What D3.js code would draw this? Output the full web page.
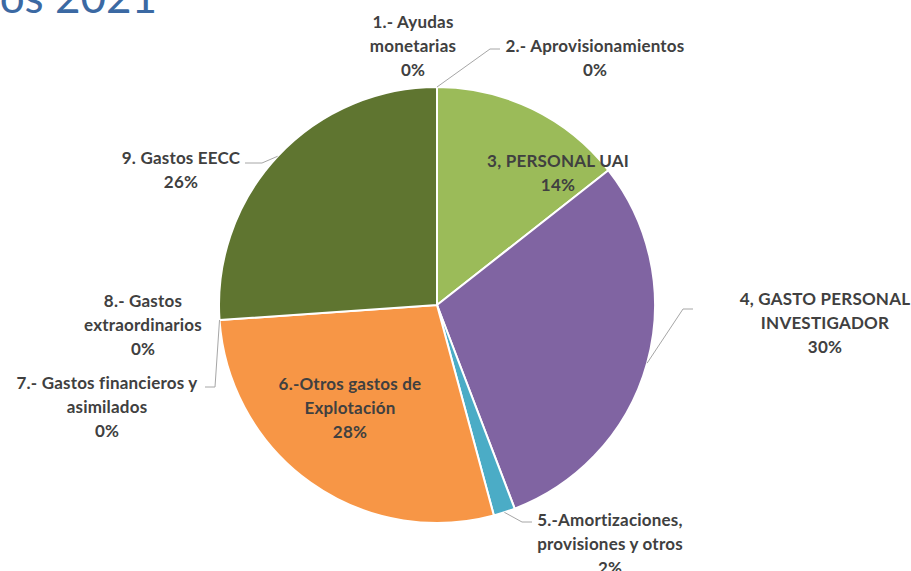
<!DOCTYPE html>
<html>
<head>
<meta charset="utf-8">
<script src="https://cdn.jsdelivr.net/npm/d3@7"></script>
<style>
  html, body { margin: 0; padding: 0; background: #fff; }
  svg { display: block; }
</style>
</head>
<body>
<div id="chart"></div>
<script>
// chart data
const categories = [
  "1.- Ayudas monetarias",
  "2.- Aprovisionamientos",
  "3, PERSONAL UAI",
  "4, GASTO PERSONAL INVESTIGADOR",
  "5.-Amortizaciones, provisiones y otros",
  "6.-Otros gastos de Explotación",
  "7.- Gastos financieros y asimilados",
  "8.- Gastos extraordinarios",
  "9. Gastos EECC"
];
const values = [0, 0, 14.4, 29.8, 1.6, 28.1, 0, 0, 26.1];
const labelLines = [
  ["1.- Ayudas", "monetarias"],
  ["2.- Aprovisionamientos"],
  ["3, PERSONAL UAI"],
  ["4, GASTO PERSONAL", "INVESTIGADOR"],
  ["5.-Amortizaciones,", "provisiones  y otros"],
  ["6.-Otros gastos de", "Explotación"],
  ["7.- Gastos financieros y", "asimilados"],
  ["8.- Gastos", "extraordinarios"],
  ["9. Gastos EECC"]
];
const colors = ["#4F81BD", "#C0504D", "#9BBB59", "#8064A2", "#4BACC6", "#F79646", "#2C4D75", "#772C2A", "#5F7530"];

// layout (label placement, leader elbows)
const width = 911, height = 571;
const cx = 437, cy = 305, radius = 218;
const lineH = 24;
const labelPos = [
  { x: 413, y: 22 },
  { x: 595, y: 46, elbow: [490, 49], end: 500 },
  { x: 558, y: 161 },
  { x: 825, y: 299, elbow: [683, 309], end: 693 },
  { x: 610, y: 520, elbow: [522, 522], end: 532 },
  { x: 350, y: 384 },
  { x: 107, y: 383, elbow: [215, 387], end: 205 },
  { x: 143, y: 301 },
  { x: 181, y: 158, elbow: [262, 163], end: 245 }
];

const total = d3.sum(values);
const pct = d3.format(".0%");

const svg = d3.select("#chart").append("svg")
  .attr("width", width)
  .attr("height", height);

// title (cut at the left edge, as in the slide)
svg.append("text")
  .attr("x", 157)
  .attr("y", 13)
  .attr("text-anchor", "end")
  .style("font-family", "Lato, 'Open Sans', sans-serif")
  .style("font-weight", 400)
  .style("font-size", "44px")
  .style("fill", "#3B69A3")
  .text("Gastos 2021");

const pie = d3.pie().sort(null).value((d) => d);
const arcs = pie(values);
const arc = d3.arc().innerRadius(0).outerRadius(radius);

const g = svg.append("g").attr("transform", `translate(${cx},${cy})`);

g.selectAll("path.slice")
  .data(arcs.filter((d) => d.value > 0))
  .enter().append("path")
  .attr("class", "slice")
  .attr("d", arc)
  .style("fill", (d) => colors[d.index])
  .style("stroke", "#fff")
  .style("stroke-width", 2)
  .style("stroke-linejoin", "round");

// leader lines
const edgePoint = (d) => {
  const a = (d.startAngle + d.endAngle) / 2;
  return [cx + radius * Math.sin(a), cy - radius * Math.cos(a)];
};

arcs.forEach((d, i) => {
  const p = labelPos[i];
  if (!p.elbow) return;
  const s = edgePoint(d);
  svg.append("polyline")
    .attr("points", [s, p.elbow, [p.end, p.elbow[1]]].map((q) => q.join(",")).join(" "))
    .style("fill", "none")
    .style("stroke", "#A6A6A6")
    .style("stroke-width", 1);
});

// labels
arcs.forEach((d, i) => {
  const p = labelPos[i];
  const lines = labelLines[i].concat([pct(d.value / total)]);
  const t = svg.append("text")
    .attr("text-anchor", "middle")
    .style("font-family", "Lato, 'Open Sans', sans-serif")
    .style("font-weight", 700)
    .style("font-size", "17px")
    .style("letter-spacing", "0.2px")
    .style("fill", "#404040");
  lines.forEach((l, k) => {
    t.append("tspan")
      .attr("x", p.x)
      .attr("y", p.y + k * lineH)
      .attr("dy", "0.35em")
      .text(l);
  });
});
</script>
</body>
</html>
